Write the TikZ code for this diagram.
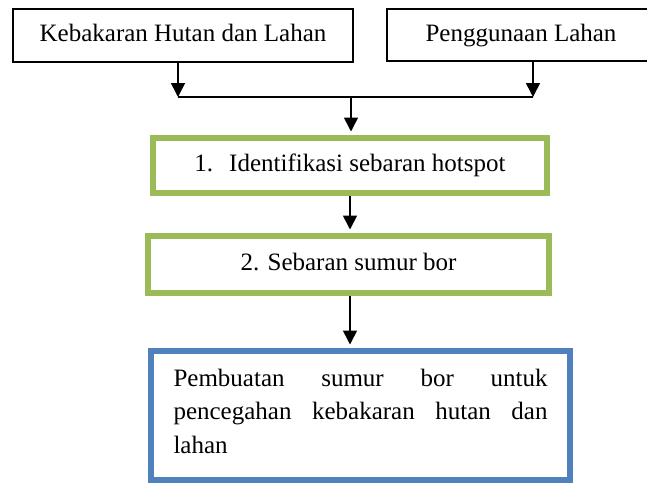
\documentclass[tikz,border=0pt]{standalone}
\usepackage{fontspec}
\setmainfont{Liberation Serif}
\usetikzlibrary{arrows.meta}
\definecolor{boxgreen}{HTML}{9BBB59}
\definecolor{boxblue}{HTML}{4F81BD}
\begin{document}
\begin{tikzpicture}[x=1pt,y=-1pt,
  every node/.style={font=\fontsize{25}{30}\selectfont, inner sep=0pt},
  blackbox/.style={draw=black, line width=1.5pt, rectangle, text height=17pt, text depth=5pt},
  greenbox/.style={draw=boxgreen, line width=6pt, rectangle, text height=17pt, text depth=5pt},
  bluebox/.style={draw=boxblue, line width=6pt, rectangle},
  arr/.style={line width=1.6pt, -{Triangle[width=14pt,length=14pt]}},
  gaparr/.style={arr, shorten >=3.5pt},
  conn/.style={line width=1.6pt}]
\useasboundingbox (0,0) rectangle (647,483);
\clip (0,0) rectangle (647,483);
\fill[white] (0,0) rectangle (647,483);
% top boxes
\node[blackbox, minimum width=340pt, minimum height=53pt] (k) at (183,35.5) {Kebakaran Hutan dan Lahan};
\node[blackbox, minimum width=268pt, minimum height=52pt] (p) at (521,35) {Penggunaan Lahan};
% green boxes
\node[greenbox, minimum width=394pt, minimum height=55pt] (g1) at (350,165.5) {1.\hspace{16pt}Identifikasi sebaran hotspot};
\node[greenbox, minimum width=401pt, minimum height=57pt] (g2) at (348.5,264.5) {2. Sebaran sumur bor};
% blue box
\node[bluebox, minimum width=419pt, minimum height=129pt, text width=374pt, align=justify,
      font=\fontsize{25}{33.5}\selectfont] (b) at (360.5,415.5)
  {\makebox[374pt][s]{Pembuatan sumur bor untuk}\\
   \makebox[374pt][s]{pencegahan kebakaran hutan dan}\\
   lahan\rule[-9pt]{0pt}{9pt}};
% junction
\coordinate (jl) at (178,97);
\coordinate (jr) at (533,97);
\coordinate (jm) at (351,97);
\draw[arr] (k.south -| jl) -- (jl);
\draw[arr] (p.south -| jr) -- (jr);
\draw[conn] (jl) -- (jr);
\draw[gaparr] (jm) -- (jm |- g1.north);
\draw[gaparr] (g1.south) -- (g1.south |- g2.north);
\draw[gaparr] (g1.south |- g2.south) -- (g1.south |- b.north);
\end{tikzpicture}
\end{document}
